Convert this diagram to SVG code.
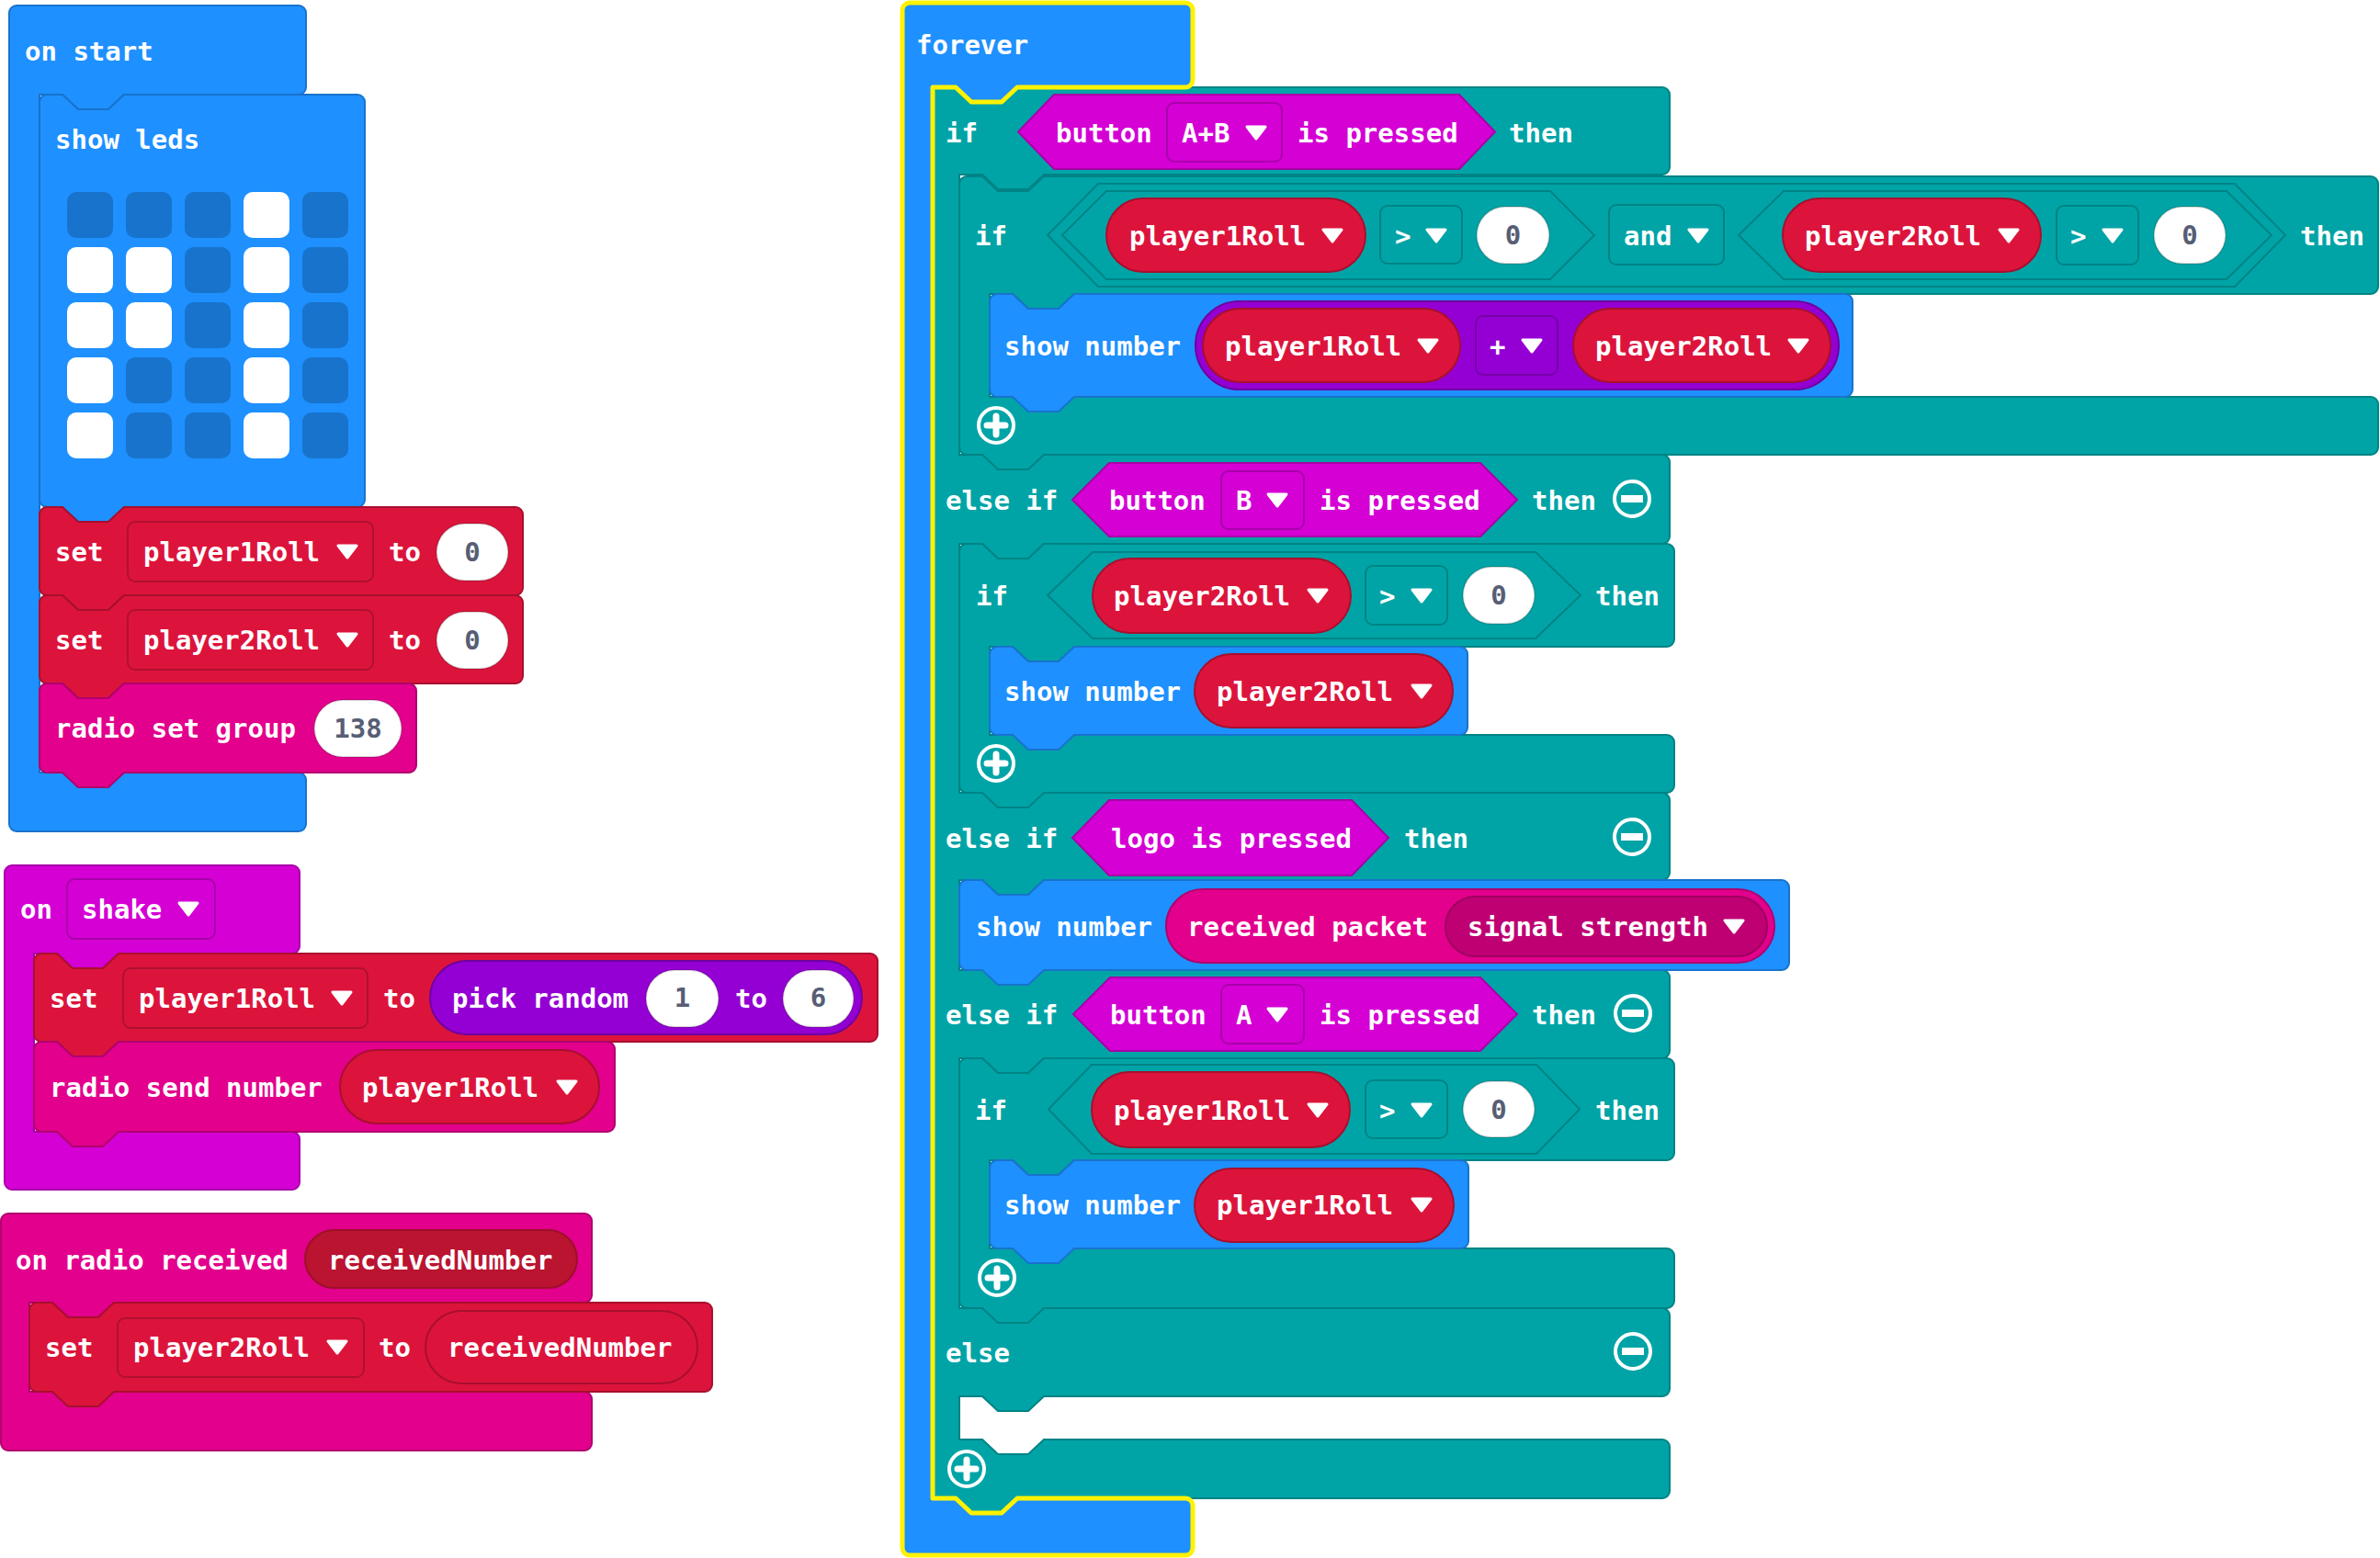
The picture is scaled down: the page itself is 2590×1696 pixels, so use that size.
<svg xmlns="http://www.w3.org/2000/svg" xmlns:xlink="http://www.w3.org/1999/xlink" width="2590" height="1696" viewBox="0 0 2590 1696">
<style>
.t{font-family:"DejaVu Sans Mono","Liberation Mono",monospace;font-weight:bold;font-size:29px;fill:#fff}
.n{fill:#575E75;text-anchor:middle}
.blue{fill:#1E90FF;stroke:#1873CC;stroke-width:2}
.red{fill:#DC143C;stroke:#A80F2E;stroke-width:2}
.pink{fill:#E3008C;stroke:#B0006D;stroke-width:2}
.inp{fill:#D400D4;stroke:#A800A8;stroke-width:2}
.math{fill:#9400D3;stroke:#7000A0;stroke-width:2}
.teal{fill:#00A4A6;stroke:#008385;stroke-width:2}
.fld{fill:none;stroke:rgba(0,0,0,0.2);stroke-width:2}
.num{fill:#fff;stroke:rgba(0,0,0,0.15);stroke-width:2}
.param{fill:#BA1431;stroke:#9E0F29;stroke-width:2}
.sig{fill:#BE0073;stroke:#A00060;stroke-width:2}
.l0{fill:#1873CC}
.l1{fill:#fff}
.fev{fill:#1E90FF}
.hl{fill:none;stroke:#FFF200;stroke-width:5;stroke-linejoin:round}
</style>
<defs>
<path id="dd" d="M0,-6 H20 L10,7 Z" fill="#fff" stroke="#fff" stroke-width="3" stroke-linejoin="round"/>
<g id="plusBtn"><circle r="19" fill="none" stroke="#fff" stroke-width="4"/><path d="M-10,0 H10 M0,-10 V10" stroke="#fff" stroke-width="7" stroke-linecap="round"/></g>
<g id="minusBtn"><circle r="19" fill="none" stroke="#fff" stroke-width="4"/><path d="M-12,0 H12" stroke="#fff" stroke-width="8"/></g>
<path id="foreverShape" d="M982,11 a8,8 0 0 1 8,-8 H1290 a8,8 0 0 1 8,8 V87 a8,8 0 0 1 -8,8 H1107 l-17,16 h-33 l-17,-16 H1015 V1631 H1040 l17,16 h33 l17,-16 H1290 a8,8 0 0 1 8,8 V1685 a8,8 0 0 1 -8,8 H990 a8,8 0 0 1 -8,-8 Z"/>
</defs>
<rect width="2590" height="1696" fill="#fff"/>

<!-- on start -->
<g id="on-start">
<path class="blue" d="M10,14 a8,8 0 0 1 8,-8 H325 a8,8 0 0 1 8,8 V95 a8,8 0 0 1 -8,8 H135 l-17,16 h-33 l-17,-16 H43 V841 H325 a8,8 0 0 1 8,8 V897 a8,8 0 0 1 -8,8 H18 a8,8 0 0 1 -8,-8 Z"/>
<text class="t" x="27" y="66">on start</text>
</g>
<g id="show-leds">
<path class="blue" d="M43,111 a8,8 0 0 1 8,-8 H68 l17,16 h33 l17,-16 H389 a8,8 0 0 1 8,8 V544 a8,8 0 0 1 -8,8 H135 l-17,16 h-33 l-17,-16 H51 a8,8 0 0 1 -8,-8 Z"/>
<text class="t" x="60" y="162">show leds</text>
<rect class="l0" x="73" y="209" width="50" height="50" rx="10"/>
<rect class="l0" x="137" y="209" width="50" height="50" rx="10"/>
<rect class="l0" x="201" y="209" width="50" height="50" rx="10"/>
<rect class="l1" x="265" y="209" width="50" height="50" rx="10"/>
<rect class="l0" x="329" y="209" width="50" height="50" rx="10"/>
<rect class="l1" x="73" y="269" width="50" height="50" rx="10"/>
<rect class="l1" x="137" y="269" width="50" height="50" rx="10"/>
<rect class="l0" x="201" y="269" width="50" height="50" rx="10"/>
<rect class="l1" x="265" y="269" width="50" height="50" rx="10"/>
<rect class="l0" x="329" y="269" width="50" height="50" rx="10"/>
<rect class="l1" x="73" y="329" width="50" height="50" rx="10"/>
<rect class="l1" x="137" y="329" width="50" height="50" rx="10"/>
<rect class="l0" x="201" y="329" width="50" height="50" rx="10"/>
<rect class="l1" x="265" y="329" width="50" height="50" rx="10"/>
<rect class="l0" x="329" y="329" width="50" height="50" rx="10"/>
<rect class="l1" x="73" y="389" width="50" height="50" rx="10"/>
<rect class="l0" x="137" y="389" width="50" height="50" rx="10"/>
<rect class="l0" x="201" y="389" width="50" height="50" rx="10"/>
<rect class="l1" x="265" y="389" width="50" height="50" rx="10"/>
<rect class="l0" x="329" y="389" width="50" height="50" rx="10"/>
<rect class="l1" x="73" y="449" width="50" height="50" rx="10"/>
<rect class="l0" x="137" y="449" width="50" height="50" rx="10"/>
<rect class="l0" x="201" y="449" width="50" height="50" rx="10"/>
<rect class="l1" x="265" y="449" width="50" height="50" rx="10"/>
<rect class="l0" x="329" y="449" width="50" height="50" rx="10"/>
</g>
<g id="set-p1-0">
<path class="red" d="M43,560 a8,8 0 0 1 8,-8 H68 l17,16 h33 l17,-16 H561 a8,8 0 0 1 8,8 V640 a8,8 0 0 1 -8,8 H135 l-17,16 h-33 l-17,-16 H51 a8,8 0 0 1 -8,-8 Z"/>
<text class="t" x="60" y="611">set</text>
<rect class="fld" x="139" y="568" width="267" height="65" rx="8"/>
<text class="t" x="156" y="611">player1Roll</text>
<use href="#dd" x="368" y="600"/>
<text class="t" x="423" y="611">to</text>
<rect class="num" x="475" y="570" width="78" height="62" rx="31"/>
<text class="t n" x="514" y="611">0</text>
</g>
<g id="set-p2-0">
<path class="red" d="M43,656 a8,8 0 0 1 8,-8 H68 l17,16 h33 l17,-16 H561 a8,8 0 0 1 8,8 V736 a8,8 0 0 1 -8,8 H135 l-17,16 h-33 l-17,-16 H51 a8,8 0 0 1 -8,-8 Z"/>
<text class="t" x="60" y="707">set</text>
<rect class="fld" x="139" y="664" width="267" height="65" rx="8"/>
<text class="t" x="156" y="707">player2Roll</text>
<use href="#dd" x="368" y="696"/>
<text class="t" x="423" y="707">to</text>
<rect class="num" x="475" y="666" width="78" height="62" rx="31"/>
<text class="t n" x="514" y="707">0</text>
</g>
<g id="radio-set-group">
<path class="pink" d="M43,752 a8,8 0 0 1 8,-8 H68 l17,16 h33 l17,-16 H445 a8,8 0 0 1 8,8 V833 a8,8 0 0 1 -8,8 H135 l-17,16 h-33 l-17,-16 H51 a8,8 0 0 1 -8,-8 Z"/>
<text class="t" x="60" y="803">radio set group</text>
<rect class="num" x="342" y="762" width="95" height="62" rx="31"/>
<text class="t n" x="389.5" y="803">138</text>
</g>

<!-- on shake -->
<g id="on-shake">
<path class="inp" d="M5,950 a8,8 0 0 1 8,-8 H318 a8,8 0 0 1 8,8 V1030 a8,8 0 0 1 -8,8 H129 l-17,16 h-33 l-17,-16 H37 V1232 H318 a8,8 0 0 1 8,8 V1287 a8,8 0 0 1 -8,8 H13 a8,8 0 0 1 -8,-8 Z"/>
<text class="t" x="22" y="1000">on</text>
<rect class="fld" x="73" y="957" width="161" height="65" rx="8"/>
<text class="t" x="89" y="1000">shake</text>
<use href="#dd" x="195" y="989"/>
</g>
<g id="set-p1-random">
<path class="red" d="M37,1046 a8,8 0 0 1 8,-8 H62 l17,16 h33 l17,-16 H947 a8,8 0 0 1 8,8 V1126 a8,8 0 0 1 -8,8 H129 l-17,16 h-33 l-17,-16 H45 a8,8 0 0 1 -8,-8 Z"/>
<text class="t" x="54" y="1097">set</text>
<rect class="fld" x="134" y="1054" width="266" height="65" rx="8"/>
<text class="t" x="151" y="1097">player1Roll</text>
<use href="#dd" x="362" y="1086"/>
<text class="t" x="417" y="1097">to</text>
<rect class="math" x="468" y="1046" width="470" height="80" rx="40"/>
<text class="t" x="492" y="1097">pick random</text>
<rect class="num" x="703" y="1056" width="79" height="62" rx="31"/>
<text class="t n" x="742.5" y="1096">1</text>
<text class="t" x="800" y="1097">to</text>
<rect class="num" x="852" y="1056" width="77" height="62" rx="31"/>
<text class="t n" x="890.5" y="1096">6</text>
</g>
<g id="radio-send-number">
<path class="pink" d="M37,1142 a8,8 0 0 1 8,-8 H62 l17,16 h33 l17,-16 H661 a8,8 0 0 1 8,8 V1224 a8,8 0 0 1 -8,8 H129 l-17,16 h-33 l-17,-16 H45 a8,8 0 0 1 -8,-8 Z"/>
<text class="t" x="54" y="1194">radio send number</text>
<rect class="red" x="370" y="1143" width="282" height="80" rx="40"/>
<text class="t" x="394" y="1194">player1Roll</text>
<use href="#dd" x="607" y="1183"/>
</g>

<!-- on radio received -->
<g id="on-radio-received">
<path class="pink" d="M1,1329 a8,8 0 0 1 8,-8 H636 a8,8 0 0 1 8,8 V1410 a8,8 0 0 1 -8,8 H124 l-17,16 h-33 l-17,-16 H32 V1515 H636 a8,8 0 0 1 8,8 V1571 a8,8 0 0 1 -8,8 H9 a8,8 0 0 1 -8,-8 Z"/>
<text class="t" x="17" y="1382">on radio received</text>
<rect class="param" x="332" y="1339" width="296" height="63" rx="31.5"/>
<text class="t" x="357" y="1382">receivedNumber</text>
</g>
<g id="set-p2-received">
<path class="red" d="M32,1426 a8,8 0 0 1 8,-8 H57 l17,16 h33 l17,-16 H767 a8,8 0 0 1 8,8 V1507 a8,8 0 0 1 -8,8 H124 l-17,16 h-33 l-17,-16 H40 a8,8 0 0 1 -8,-8 Z"/>
<text class="t" x="49" y="1477">set</text>
<rect class="fld" x="128" y="1435" width="268" height="64" rx="8"/>
<text class="t" x="145" y="1477">player2Roll</text>
<use href="#dd" x="357" y="1466"/>
<text class="t" x="412" y="1477">to</text>
<rect class="red" x="463" y="1427" width="296" height="79" rx="39.5"/>
<text class="t" x="487" y="1477">receivedNumber</text>
</g>

<!-- forever -->
<g id="forever">
<use href="#foreverShape" class="fev"/>
<text class="t" x="997" y="59">forever</text>
</g>
<g id="if-main">
<path class="teal" d="M1015,103 a8,8 0 0 1 8,-8 H1040 l17,16 h33 l17,-16 H1809 a8,8 0 0 1 8,8 V182 a8,8 0 0 1 -8,8 H1136 l-17,16 h-33 l-17,-16 H1044 V495 H1809 a8,8 0 0 1 8,8 V584 a8,8 0 0 1 -8,8 H1136 l-17,16 h-33 l-17,-16 H1044 V863 H1809 a8,8 0 0 1 8,8 V950 a8,8 0 0 1 -8,8 H1136 l-17,16 h-33 l-17,-16 H1044 V1056 H1809 a8,8 0 0 1 8,8 V1144 a8,8 0 0 1 -8,8 H1136 l-17,16 h-33 l-17,-16 H1044 V1424 H1809 a8,8 0 0 1 8,8 V1512 a8,8 0 0 1 -8,8 H1136 l-17,16 h-33 l-17,-16 H1044 V1567 H1069 l17,16 h33 l17,-16 H1809 a8,8 0 0 1 8,8 V1623 a8,8 0 0 1 -8,8 H1107 l-17,16 h-33 l-17,-16 H1023 a8,8 0 0 1 -8,-8 Z"/>
<text class="t" x="1029" y="155">if</text>
<polygon class="inp" points="1108,143.5 1147,103 1588,103 1627,143.5 1588,184 1147,184"/>
<text class="t" x="1149" y="155">button</text>
<rect class="fld" x="1270" y="112" width="125" height="64" rx="8"/>
<text class="t" x="1286" y="155">A+B</text>
<use href="#dd" x="1357" y="144"/>
<text class="t" x="1412" y="155">is pressed</text>
<text class="t" x="1642" y="155">then</text>
<text class="t" x="1029" y="555">else if</text>
<polygon class="inp" points="1167,544 1207,504 1611,504 1651,544 1611,584 1207,584"/>
<text class="t" x="1207" y="555">button</text>
<rect class="fld" x="1329" y="513" width="90" height="63" rx="8"/>
<text class="t" x="1345" y="555">B</text>
<use href="#dd" x="1380" y="544"/>
<text class="t" x="1436" y="555">is pressed</text>
<text class="t" x="1667" y="555">then</text>
<use href="#minusBtn" x="1776" y="543"/>
<text class="t" x="1029" y="923">else if</text>
<polygon class="inp" points="1167,912 1207,871 1471,871 1511,912 1471,953 1207,953"/>
<text class="t" x="1209" y="923">logo is pressed</text>
<text class="t" x="1528" y="923">then</text>
<use href="#minusBtn" x="1776" y="911"/>
<text class="t" x="1029" y="1115">else if</text>
<polygon class="inp" points="1168,1104 1208,1064 1611,1064 1651,1104 1611,1144 1208,1144"/>
<text class="t" x="1208" y="1115">button</text>
<rect class="fld" x="1329" y="1072" width="90" height="64" rx="8"/>
<text class="t" x="1345" y="1115">A</text>
<use href="#dd" x="1380" y="1104"/>
<text class="t" x="1436" y="1115">is pressed</text>
<text class="t" x="1667" y="1115">then</text>
<use href="#minusBtn" x="1777" y="1103"/>
<text class="t" x="1029" y="1483">else</text>
<use href="#minusBtn" x="1777" y="1471"/>
<use href="#plusBtn" x="1052" y="1599"/>
</g>
<g id="forever-highlight">
<use href="#foreverShape" class="hl"/>
</g>
<g id="if-both">
<path class="teal" d="M1044,200 a8,8 0 0 1 8,-8 H1069 l17,16 h33 l17,-16 H2580 a8,8 0 0 1 8,8 V312 a8,8 0 0 1 -8,8 H1169 l-17,16 h-33 l-17,-16 H1077 V432 H2580 a8,8 0 0 1 8,8 V487 a8,8 0 0 1 -8,8 H1136 l-17,16 h-33 l-17,-16 H1052 a8,8 0 0 1 -8,-8 Z"/>
<text class="t" x="1061" y="267">if</text>
<polygon class="teal" points="1140,256 1195,200 2432,200 2487,256 2432,312 1195,312"/>
<polygon class="teal" points="1156,256 1204,208 1687,208 1735,256 1687,304 1204,304"/>
<rect class="red" x="1204" y="216" width="282" height="80" rx="40"/>
<text class="t" x="1229" y="267">player1Roll</text>
<use href="#dd" x="1440" y="256"/>
<rect class="fld" x="1502" y="224" width="89" height="63" rx="8"/>
<text class="t" x="1518" y="267">&gt;</text>
<use href="#dd" x="1553" y="256"/>
<rect class="num" x="1607" y="225" width="79" height="62" rx="31"/>
<text class="t n" x="1646.5" y="266">0</text>
<rect class="fld" x="1751" y="223" width="125" height="65" rx="8"/>
<text class="t" x="1767" y="267">and</text>
<use href="#dd" x="1838" y="256"/>
<polygon class="teal" points="1892,256 1941,208 2423,208 2472,256 2423,304 1941,304"/>
<rect class="red" x="1940" y="216" width="281" height="80" rx="40"/>
<text class="t" x="1964" y="267">player2Roll</text>
<use href="#dd" x="2176" y="256"/>
<rect class="fld" x="2238" y="224" width="89" height="64" rx="8"/>
<text class="t" x="2253" y="267">&gt;</text>
<use href="#dd" x="2289" y="256"/>
<rect class="num" x="2344" y="225" width="78" height="62" rx="31"/>
<text class="t n" x="2383" y="266">0</text>
<text class="t" x="2503" y="267">then</text>
<use href="#plusBtn" x="1084" y="463"/>
</g>
<g id="show-sum">
<path class="blue" d="M1077,328 a8,8 0 0 1 8,-8 H1102 l17,16 h33 l17,-16 H2008 a8,8 0 0 1 8,8 V424 a8,8 0 0 1 -8,8 H1169 l-17,16 h-33 l-17,-16 H1085 a8,8 0 0 1 -8,-8 Z"/>
<text class="t" x="1093" y="387">show number</text>
<rect class="math" x="1301" y="328" width="700" height="96" rx="48"/>
<rect class="red" x="1309" y="336" width="280" height="80" rx="40"/>
<text class="t" x="1333" y="387">player1Roll</text>
<use href="#dd" x="1544" y="376"/>
<rect class="fld" x="1606" y="344" width="89" height="64" rx="8"/>
<text class="t" x="1621" y="387">+</text>
<use href="#dd" x="1657" y="376"/>
<rect class="red" x="1712" y="336" width="280" height="80" rx="40"/>
<text class="t" x="1736" y="387">player2Roll</text>
<use href="#dd" x="1947" y="376"/>
</g>
<g id="if-p2">
<path class="teal" d="M1044,600 a8,8 0 0 1 8,-8 H1069 l17,16 h33 l17,-16 H1814 a8,8 0 0 1 8,8 V696 a8,8 0 0 1 -8,8 H1169 l-17,16 h-33 l-17,-16 H1077 V800 H1814 a8,8 0 0 1 8,8 V855 a8,8 0 0 1 -8,8 H1136 l-17,16 h-33 l-17,-16 H1052 a8,8 0 0 1 -8,-8 Z"/>
<text class="t" x="1062" y="659">if</text>
<polygon class="teal" points="1140,648 1189,601 1671,601 1720,648 1671,695 1189,695"/>
<rect class="red" x="1189" y="608" width="281" height="81" rx="40.5"/>
<text class="t" x="1212" y="659">player2Roll</text>
<use href="#dd" x="1424" y="648"/>
<rect class="fld" x="1486" y="616" width="89" height="64" rx="8"/>
<text class="t" x="1501" y="659">&gt;</text>
<use href="#dd" x="1537" y="648"/>
<rect class="num" x="1592" y="617" width="78" height="62" rx="31"/>
<text class="t n" x="1631" y="658">0</text>
<text class="t" x="1736" y="659">then</text>
<use href="#plusBtn" x="1084" y="831"/>
</g>
<g id="show-p2">
<path class="blue" d="M1077,712 a8,8 0 0 1 8,-8 H1102 l17,16 h33 l17,-16 H1589 a8,8 0 0 1 8,8 V792 a8,8 0 0 1 -8,8 H1169 l-17,16 h-33 l-17,-16 H1085 a8,8 0 0 1 -8,-8 Z"/>
<text class="t" x="1093" y="763">show number</text>
<rect class="red" x="1300" y="712" width="281" height="80" rx="40"/>
<text class="t" x="1324" y="763">player2Roll</text>
<use href="#dd" x="1537" y="752"/>
</g>
<g id="show-signal">
<path class="blue" d="M1044,966 a8,8 0 0 1 8,-8 H1069 l17,16 h33 l17,-16 H1939 a8,8 0 0 1 8,8 V1048 a8,8 0 0 1 -8,8 H1136 l-17,16 h-33 l-17,-16 H1052 a8,8 0 0 1 -8,-8 Z"/>
<text class="t" x="1062" y="1019">show number</text>
<rect class="pink" x="1269" y="968" width="662" height="80" rx="40"/>
<text class="t" x="1292" y="1019">received packet</text>
<rect class="sig" x="1573" y="976" width="350" height="65" rx="32.5"/>
<text class="t" x="1597" y="1019">signal strength</text>
<use href="#dd" x="1877" y="1008"/>
</g>
<g id="if-p1">
<path class="teal" d="M1044,1160 a8,8 0 0 1 8,-8 H1069 l17,16 h33 l17,-16 H1814 a8,8 0 0 1 8,8 V1255 a8,8 0 0 1 -8,8 H1169 l-17,16 h-33 l-17,-16 H1077 V1359 H1814 a8,8 0 0 1 8,8 V1416 a8,8 0 0 1 -8,8 H1136 l-17,16 h-33 l-17,-16 H1052 a8,8 0 0 1 -8,-8 Z"/>
<text class="t" x="1061" y="1219">if</text>
<polygon class="teal" points="1141,1207.5 1188,1159 1672,1159 1719,1207.5 1672,1256 1188,1256"/>
<rect class="red" x="1188" y="1167" width="281" height="82" rx="41"/>
<text class="t" x="1212" y="1219">player1Roll</text>
<use href="#dd" x="1424" y="1208"/>
<rect class="fld" x="1486" y="1176" width="89" height="63" rx="8"/>
<text class="t" x="1501" y="1219">&gt;</text>
<use href="#dd" x="1537" y="1208"/>
<rect class="num" x="1592" y="1177" width="78" height="61" rx="30.5"/>
<text class="t n" x="1631" y="1218">0</text>
<text class="t" x="1736" y="1219">then</text>
<use href="#plusBtn" x="1085" y="1391"/>
</g>
<g id="show-p1">
<path class="blue" d="M1077,1271 a8,8 0 0 1 8,-8 H1102 l17,16 h33 l17,-16 H1590 a8,8 0 0 1 8,8 V1351 a8,8 0 0 1 -8,8 H1169 l-17,16 h-33 l-17,-16 H1085 a8,8 0 0 1 -8,-8 Z"/>
<text class="t" x="1093" y="1322">show number</text>
<rect class="red" x="1300" y="1272" width="282" height="80" rx="40"/>
<text class="t" x="1324" y="1322">player1Roll</text>
<use href="#dd" x="1537" y="1311"/>
</g>
<g id="connectors"/>
</svg>
